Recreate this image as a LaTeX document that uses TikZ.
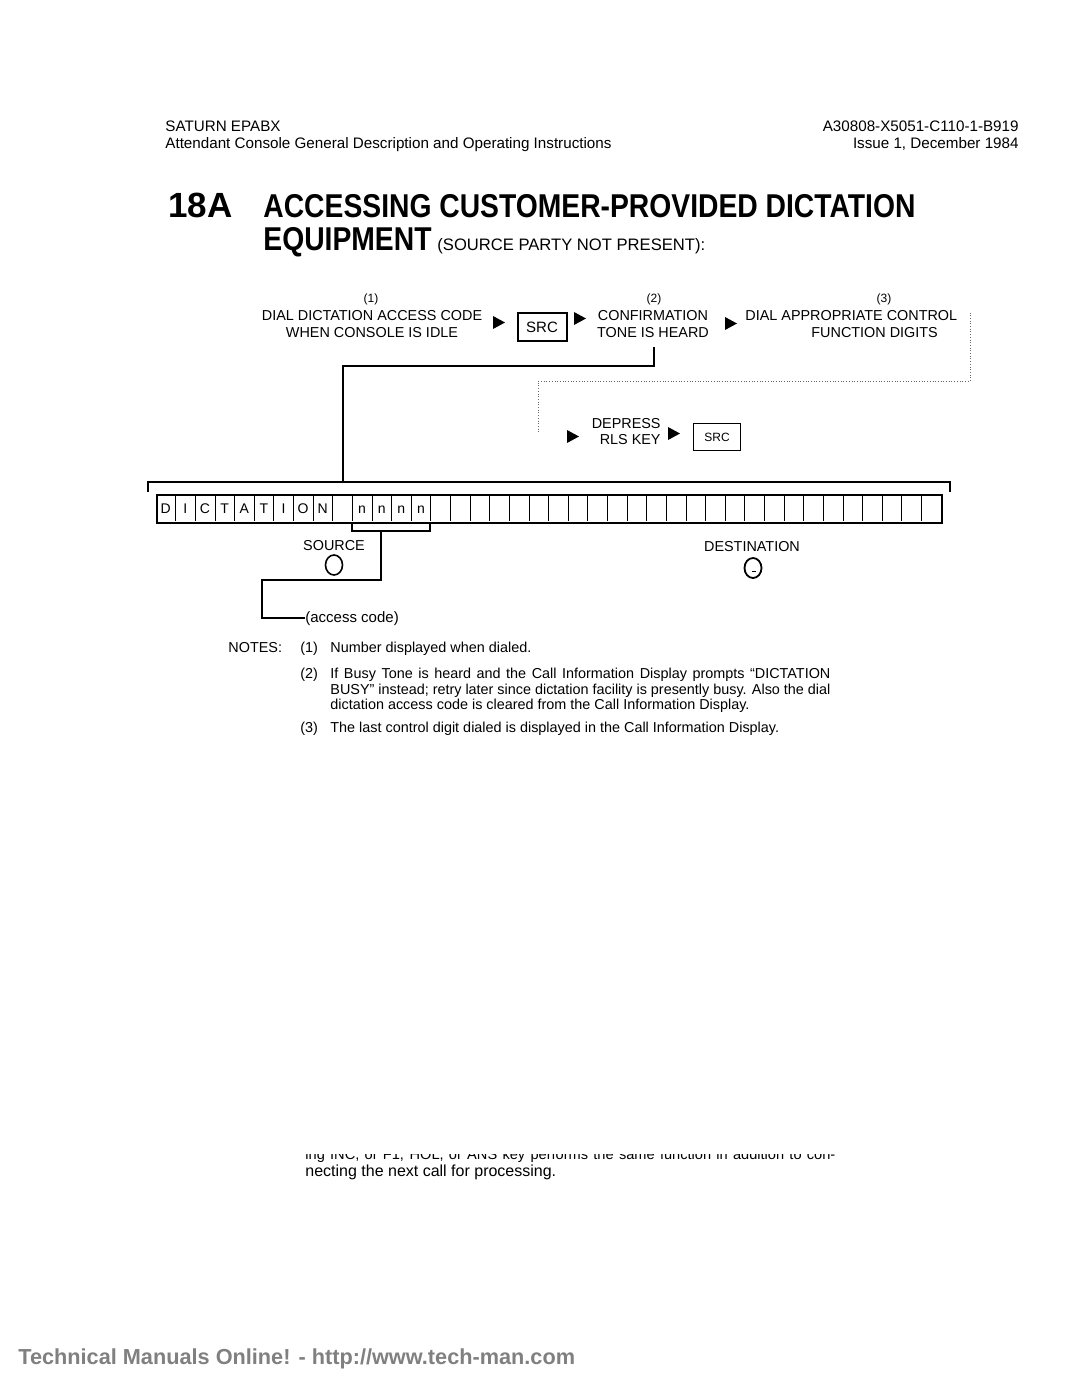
\documentclass[tikz,border=0pt]{standalone}
\usepackage{fontspec}
\setmainfont{Liberation Sans}
\usetikzlibrary{calc}
\newcommand\fs[1]{\fontsize{#1}{#1}\selectfont}
\newcommand\tri[1]{\fill #1 -- ++(12,6.5) -- ++(-12,6.5) -- cycle;}

\begin{document}
\begin{tikzpicture}[x=0.5pt,y=-0.5pt,
  txt/.style={inner sep=0pt,font=\fs{7.2}},
  hdr/.style={inner sep=0pt,font=\fs{7.6}},
  note/.style={inner sep=0pt,font=\fs{7.2},anchor=base west},
  ttl/.style={inner sep=0pt,font=\bfseries\fs{16.5},anchor=base west},
  keybox/.style={draw,line width=1pt,minimum width=24.5pt,minimum height=14pt,inner sep=0pt},
  wire/.style={line width=0.9pt},
  dots/.style={line width=0.35pt,densely dotted,black!60}]

\useasboundingbox (0,0) rectangle (1080,1397);

\node[hdr,anchor=base west] (hd1) at (165,131) {SATURN EPABX};
\node[hdr,anchor=base west] (hd2) at (165,148) {Attendant Console General Description and Operating Instructions};
\node[hdr,anchor=base east] (hd3) at (1019,131) {A30808-X5051-C110-1-B919};
\node[hdr,anchor=base east] (hd4) at (1019,148) {Issue 1, December 1984};

\node[ttl,font=\bfseries\fs{17.5}] (num) at (168,217) {18A};
\node[ttl] (title1) at (263,217) {\scalebox{0.857}[1]{ACCESSING CUSTOMER-PROVIDED DICTATION}};
\node[ttl] (title2) at (263,250) {\scalebox{0.857}[1]{EQUIPMENT}};
\node[inner sep=0pt,font=\fs{8.3},anchor=base west] (subt) at (437,250) {(SOURCE PARTY NOT PRESENT):};

\node[txt,font=\fs{6},anchor=base] (lab1) at (371,302) {(1)};
\node[txt,font=\fs{6},anchor=base] (lab2) at (654,302) {(2)};
\node[txt,font=\fs{6},anchor=base] (lab3) at (884,302) {(3)};
\node[txt,anchor=base] (step1a) at (372,320) {DIAL DICTATION ACCESS CODE};
\node[txt,anchor=base] (step1b) at (372,337) {WHEN CONSOLE IS IDLE};
\node[txt,anchor=base] (step2a) at (653,320) {CONFIRMATION};
\node[txt,anchor=base] (step2b) at (653,337) {TONE IS HEARD};
\node[txt,anchor=base west] (step3a) at (745,320) {DIAL APPROPRIATE CONTROL};
\node[txt,anchor=base west] (step3b) at (811,337) {FUNCTION DIGITS};
\node[keybox] (src1) at (542,327) {\fs{7.5}SRC};
\tri{(493,316)}
\tri{(574,312)}
\tri{(725,317)}

\node[txt,anchor=base east] (relA) at (661,428) {DEPRESS};
\node[txt,anchor=base east] (relB) at (661,444) {RLS KEY};
\node[keybox,minimum width=23.5pt,minimum height=13.5pt,line width=0.8pt] (src2) at (717,437) {\fs{6}SRC};
\tri{(567,430)}
\tri{(668,427)}

\coordinate (d1) at (538,432);
\coordinate (d2) at (538,381);
\coordinate (d3) at (970,381);
\coordinate (d4) at (970,313);
\draw[dots] (d1) -- (d2) -- (d3) -- (d4);

\node[draw,line width=0.9pt,minimum width=392.5pt,minimum height=14pt,inner sep=0pt,anchor=north west] (strip) at (156,494) {};
\foreach \i in {1,...,39}
  \draw[line width=0.35pt] (156+19.625*\i,495) -- (156+19.625*\i,521);
\foreach \c [count=\i from 0] in {D,I,C,T,A,T,I,O,N,{},n,n,n,n}
  \node[txt,font=\fs{7},anchor=base] (ch\i) at (156+19.625*\i+9.8,513) {\c};

\coordinate (brL) at (148,492);
\coordinate (brLt) at (148,482);
\coordinate (brRt) at (950,482);
\coordinate (brR) at (950,492);
\draw[wire] (brL) -- (brLt) -- (brRt) -- (brR);
\coordinate (j1) at (343,482);
\coordinate (j2) at (343,366);
\coordinate (j3) at (654,366);
\coordinate (j4) at (654,347);
\draw[wire] (j1) -- (j2) -- (j3) -- (j4);

\coordinate (b1) at (352,522);
\coordinate (b2) at (352,531);
\coordinate (b3) at (430,531);
\coordinate (b4) at (430,522);
\draw[wire] (b1) -- (b2) -- (b3) -- (b4);
\node[txt,anchor=base west,font=\fs{7.5}] (acc) at (305,622) {(access code)};
\coordinate (s1) at (381,531);
\coordinate (s2) at (381,580);
\coordinate (s3) at (262,580);
\coordinate (s4) at (262,618);
\draw[wire] (s1) -- (s2) -- (s3) -- (s4) -- (acc.west |- s4);

\node[txt,anchor=base] (srclab) at (334,550) {SOURCE};
\node[txt,anchor=base] (dstlab) at (752,551) {DESTINATION};
\draw[line width=0.8pt] (334,565) ellipse [x radius=8.5, y radius=10];
\draw[line width=0.9pt] (753,568) ellipse [x radius=8.5, y radius=10];
\draw[line width=0.4pt] (752,571) -- (756,571);

\node[note] (nh) at (228,652) {NOTES:};
\node[note] (n1) at (300,652) {(1)};
\node[note] (n1t) at (330,652) {Number displayed when dialed.};
\node[note] (n2) at (300,678) {(2)};
\node[note] (n2a) at (330,678) {\makebox[250pt][s]{If Busy Tone is heard and the Call Information Display prompts ``DICTATION}};
\node[note] (n2b) at (330,694) {\makebox[250pt][s]{BUSY'' instead; retry later since dictation facility is presently busy. Also the dial}};
\node[note] (n2c) at (330,709) {dictation access code is cleared from the Call Information Display.};
\node[note] (n3) at (300,732) {(3)};
\node[note] (n3t) at (330,732) {The last control digit dialed is displayed in the Call Information Display.};

\begin{scope}
\clip (290,1154) rectangle (850,1162);
\node[note,font=\fs{7.3}] (cut) at (305,1159) {\makebox[265pt][s]{ing INC, or F1, HOL, or ANS key performs the same function in addition to con-}};
\end{scope}
\node[note,font=\fs{8}] (cont) at (305,1176) {necting the next call for processing.};

\node[anchor=base west,inner sep=0pt,font=\bfseries\fs{10.85},text=black!50] (web) at (18,1364) {Technical Manuals Online! - http://www.tech-man.com};

\end{tikzpicture}
\end{document}
